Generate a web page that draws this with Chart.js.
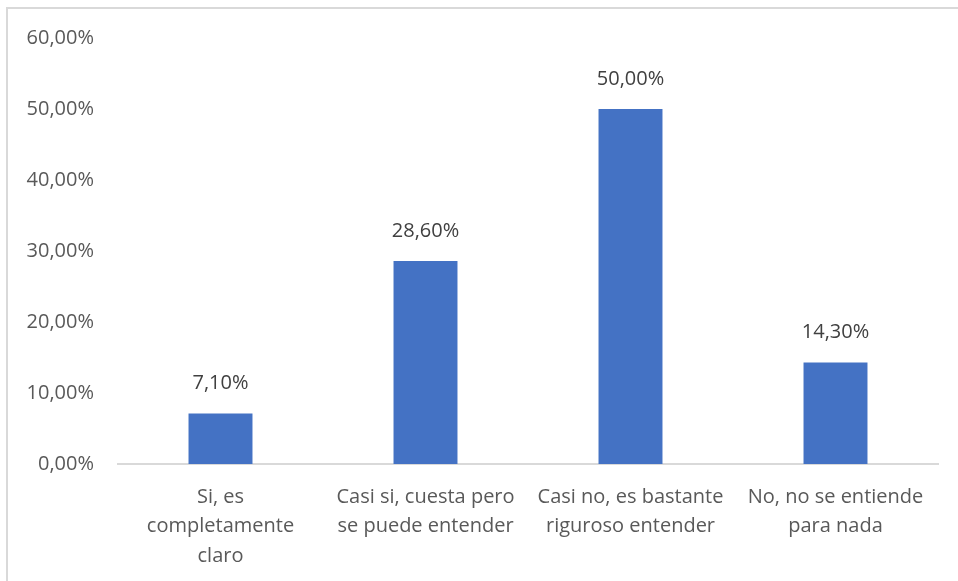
<!DOCTYPE html>
<html>
<head>
<meta charset="utf-8">
<script src="https://cdn.jsdelivr.net/npm/chart.js@4"></script>
<style>
  html, body { margin: 0; padding: 0; background: #fff; }
  #wrap { position: relative; width: 958px; height: 581px; overflow: hidden; }
  #frame {
    position: absolute; left: 6px; top: 7px; right: -10px; bottom: -10px;
    border-top: 2px solid #d9d9d9; border-left: 2px solid #d9d9d9;
  }
  canvas { position: absolute; left: 0; top: 0; }
</style>
</head>
<body>
<div id="wrap">
  <div id="frame"></div>
  <canvas id="chart" width="958" height="581"></canvas>
</div>
<script>
// datos del gráfico
const categories = [
    ['Si, es', 'completamente', 'claro'],
    ['Casi si, cuesta pero', 'se puede entender'],
    ['Casi no, es bastante', 'riguroso entender'],
    ['No, no se entiende', 'para nada']
];
const values = [7.1, 28.6, 50.0, 14.3];
const yTicks = [0, 10, 20, 30, 40, 50, 60];

const FONT = '"Open Sans", "Noto Sans", sans-serif';
const fmt = v => v.toFixed(2).replace('.', ',') + '%';

// etiquetas encima de cada barra
const barLabels = {
    id: 'barLabels',
    afterDatasetsDraw(chart) {
        const ctx = chart.ctx;
        const meta = chart.getDatasetMeta(0);
        ctx.save();
        ctx.font = '20px ' + FONT;
        ctx.fillStyle = '#404040';
        ctx.textAlign = 'center';
        ctx.textBaseline = 'middle';
        meta.data.forEach((bar, i) => {
            ctx.fillText(fmt(values[i]), bar.x, bar.y - 30);
        });
        ctx.restore();
    }
};

new Chart(document.getElementById('chart').getContext('2d'), {
    type: 'bar',
    data: {
        labels: categories,
        datasets: [{
            data: values,
            backgroundColor: '#4472C4',
            categoryPercentage: 1,
            barPercentage: 0.312
        }]
    },
    options: {
        responsive: false,
        animation: false,
        devicePixelRatio: 1,
        layout: { padding: { top: 38, right: 20, left: 0, bottom: 0 } },
        plugins: {
            legend: { display: false },
            tooltip: { enabled: false }
        },
        scales: {
            y: {
                min: 0,
                max: 60,
                afterBuildTicks: s => { s.ticks = yTicks.map(v => ({ value: v })); },
                afterFit: s => { s.width = 118; },
                grid: { display: false },
                border: { display: false },
                ticks: {
                    padding: 16,
                    color: '#595959',
                    font: { family: FONT, size: 20 },
                    callback: v => fmt(v)
                }
            },
            x: {
                afterFit: s => { s.height = 117; },
                grid: { display: false },
                border: { display: true, color: '#d9d9d9', width: 2 },
                ticks: {
                    padding: 10,
                    maxRotation: 0,
                    autoSkip: false,
                    color: '#595959',
                    font: { family: FONT, size: 20, lineHeight: 1.48 }
                }
            }
        }
    },
    plugins: [barLabels]
});
</script>
</body>
</html>
